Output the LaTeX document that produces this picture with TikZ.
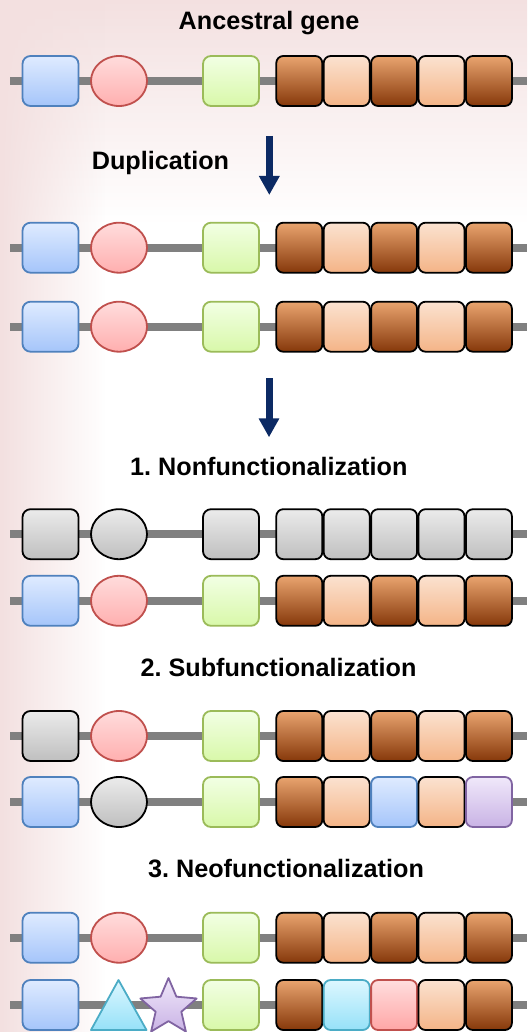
\documentclass[tikz,border=0pt]{standalone}
\usepackage{fontspec}
\setmainfont{Liberation Sans}
\usetikzlibrary{shapes.geometric,arrows.meta,fadings}
\frenchspacing

% palette
\definecolor{bgpink}{RGB}{243,224,224}
\definecolor{bluT}{HTML}{DFEBFF}\definecolor{bluB}{HTML}{A5C5FA}\definecolor{bluD}{HTML}{4F81BD}
\definecolor{redT}{HTML}{FFDCDC}\definecolor{redB}{HTML}{FFAFAF}\definecolor{redD}{HTML}{C0504D}
\definecolor{grnT}{HTML}{F2FFE4}\definecolor{grnB}{HTML}{D8F8A9}\definecolor{grnD}{HTML}{9BBB59}
\definecolor{dkT}{HTML}{E9A46F}\definecolor{dkM}{HTML}{C55A11}\definecolor{dkB}{HTML}{86380A}
\definecolor{ltT}{HTML}{FBE2D0}\definecolor{ltB}{HTML}{F4B487}
\definecolor{gryT}{HTML}{EBEBEB}\definecolor{gryB}{HTML}{BFBFBF}
\definecolor{purT}{HTML}{F0E8FA}\definecolor{purB}{HTML}{C9B3E5}\definecolor{purD}{HTML}{8064A2}
\definecolor{cyaT}{HTML}{DDF7FF}\definecolor{cyaB}{HTML}{96E1F8}\definecolor{cyaD}{HTML}{4BACC6}
\definecolor{pnkT}{HTML}{FFDEDE}\definecolor{pnkB}{HTML}{FFA6A6}
\definecolor{navy}{HTML}{0C2A64}
\definecolor{spine}{HTML}{808080}

\tikzset{
  backbone/.style={line width=8pt, spine},
  dom/.style={draw, rounded corners=8pt, minimum width=56pt, minimum height=50pt, line width=1.8pt, inner sep=0pt},
  oval/.style={draw, ellipse, minimum width=56pt, minimum height=50pt, line width=1.8pt, inner sep=0pt},
  rep/.style={draw, rounded corners=7pt, minimum width=46pt, minimum height=50pt, line width=1.8pt, inner sep=0pt},
  blu/.style={top color=bluT, bottom color=bluB, draw=bluD},
  red/.style={top color=redT, bottom color=redB, draw=redD},
  grn/.style={top color=grnT, bottom color=grnB, draw=grnD},
  dk/.style={top color=dkT, middle color=dkM, bottom color=dkB, draw=black},
  lt/.style={top color=ltT, bottom color=ltB, draw=black},
  gry/.style={top color=gryT, bottom color=gryB, draw=black},
  pur/.style={top color=purT, bottom color=purB, draw=purD},
  cya/.style={top color=cyaT, bottom color=cyaB, draw=cyaD},
  pnk/.style={top color=pnkT, bottom color=pnkB, draw=redD},
  lbl/.style={font=\fontsize{25.2}{29}\selectfont\bfseries, inner sep=0pt, anchor=base},
  flow/.style={line width=7pt, navy, -{Triangle[width=19.5pt,length=19pt]}}
}

% backbone line plus the three leading domains of one gene copy
\newcommand\GeneHead[5]{%
  \coordinate (w#1) at (10,#2);
  \coordinate (e#1) at (527,#2);
  \draw[backbone] (w#1) -- (e#1);
  \node[dom,#3] (p#1) at (50.5,#2) {};
  \node[oval,#4] (q#1) at (119,#2) {};
  \node[dom,#5] (s#1) at (231,#2) {};}
% the run of five repeat domains
\newcommand\GeneReps[7]{%
  \node[rep,#3] (#1a) at (299.3,#2) {};
  \node[rep,#4] (#1b) at (346.7,#2) {};
  \node[rep,#5] (#1c) at (394.1,#2) {};
  \node[rep,#6] (#1d) at (441.5,#2) {};
  \node[rep,#7] (#1e) at (488.9,#2) {};}

\begin{document}
\begin{tikzpicture}[x=1pt,y=-1pt]
\useasboundingbox (0,0) rectangle (527,1032);
% background washes
\fill[white] (0,0) rectangle (527,1032);
\shade[top color=bgpink, bottom color=white] (0,0) rectangle (527,225);
\fill[bgpink, path fading=east] (0,0) rectangle (105,1032);

% titles
\node[lbl] (tAnc) at (269,29.6) {Ancestral gene};
\node[lbl] (tDup) at (160.5,169.7) {Duplication};
\node[lbl] (tNon) at (268.8,475) {1. Nonfunctionalization};
\node[lbl] (tSub) at (278.5,676.6) {2. Subfunctionalization};
\node[lbl] (tNeo) at (286,877.3) {3. Neofunctionalization};

% arrows
\coordinate (aTop) at (269.3,136);
\coordinate (aBot) at (269.3,195);
\draw[flow] (aTop) -- (aBot);
\coordinate (bTop) at (269,378);
\coordinate (bBot) at (269,437.3);
\draw[flow] (bTop) -- (bBot);

% ancestral gene
\GeneHead{r1}{81}{blu}{red}{grn}
\GeneReps{r1}{81}{dk}{lt}{dk}{lt}{dk}
% duplicated copies
\GeneHead{r2}{247.7}{blu}{red}{grn}
\GeneReps{r2}{247.7}{dk}{lt}{dk}{lt}{dk}
\GeneHead{r3}{326.7}{blu}{red}{grn}
\GeneReps{r3}{326.7}{dk}{lt}{dk}{lt}{dk}
% nonfunctionalization
\GeneHead{r4}{534.2}{gry}{gry}{gry}
\GeneReps{r4}{534.2}{gry}{gry}{gry}{gry}{gry}
\GeneHead{r5}{600.8}{blu}{red}{grn}
\GeneReps{r5}{600.8}{dk}{lt}{dk}{lt}{dk}
% subfunctionalization
\GeneHead{r6}{736}{gry}{red}{grn}
\GeneReps{r6}{736}{dk}{lt}{dk}{lt}{dk}
\GeneHead{r7}{802}{blu}{gry}{grn}
\GeneReps{r7}{802}{dk}{lt}{blu}{lt}{pur}
% neofunctionalization
\GeneHead{r8}{937.7}{blu}{red}{grn}
\GeneReps{r8}{937.7}{dk}{lt}{dk}{lt}{dk}
\coordinate (w9) at (10,1005);
\coordinate (e9) at (527,1005);
\draw[backbone] (w9) -- (e9);
\node[dom,blu] (p9) at (50.5,1005) {};
\draw[cya, line width=1.8pt, line join=round] (91,1030) -- (118.5,980) -- (146.5,1030) -- cycle;
\draw[pur, line width=1.8pt, line join=round]
  (168.5,1007.6) +(-90:29.6) -- +(-54:13.5) -- +(-18:29.6) -- +(18:13.5) -- +(54:29.6)
  -- +(90:13.5) -- +(126:29.6) -- +(162:13.5) -- +(198:29.6) -- +(234:13.5) -- cycle;
\node[dom,grn] (s9) at (231,1005) {};
\GeneReps{r9}{1005}{dk}{cya}{pnk}{lt}{dk}
\end{tikzpicture}
\end{document}
